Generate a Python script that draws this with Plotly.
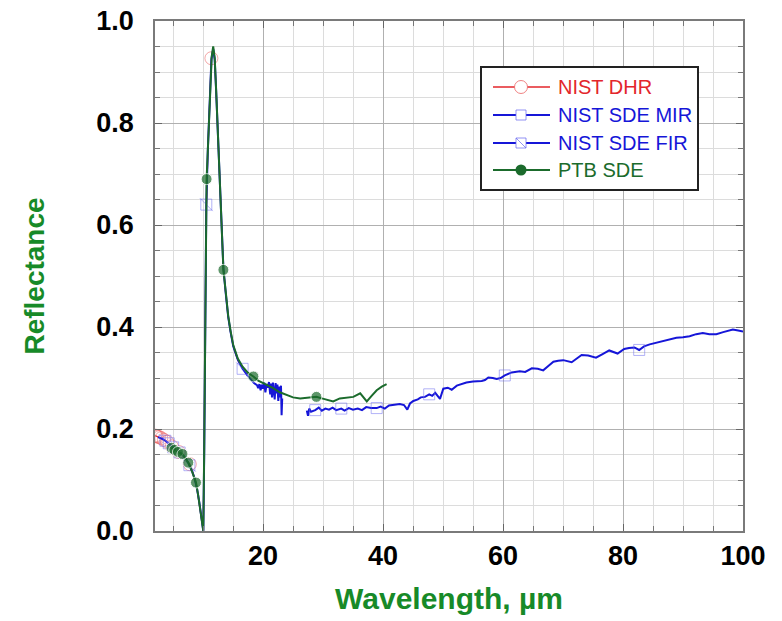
import plotly.graph_objects as go

# ---------------- data ----------------
DHR_WL = [2.05, 2.23, 2.45, 2.72, 3.05, 3.47, 4.03, 4.4, 4.8, 5.3, 5.95, 6.5, 7.0, 7.4, 7.8,
          8.2, 8.6, 9.0, 9.4, 9.7, 9.9, 10.05, 10.2, 10.35, 10.5, 10.6, 10.8, 11.0, 11.2, 11.4,
          11.7, 11.95, 12.2, 12.5, 12.8, 13.1, 13.4, 13.8, 14.2, 14.6, 15.0, 15.5, 16.0]
DHR_R = [0.187, 0.186, 0.185, 0.184, 0.182, 0.179, 0.175, 0.171, 0.166, 0.161, 0.155, 0.150,
         0.143, 0.137, 0.131, 0.118, 0.103, 0.083, 0.055, 0.030, 0.012, 0.0, 0.15, 0.36, 0.60,
         0.68, 0.745, 0.805, 0.87, 0.927, 0.946, 0.925, 0.86, 0.765, 0.68, 0.605, 0.515, 0.465,
         0.42, 0.39, 0.365, 0.345, 0.33]
DHR_MARK_WL = [2.05, 2.23, 2.45, 2.72, 3.05, 3.47, 4.03, 4.8, 5.95, 7.8, 11.4]

MIR_WL = [2.5, 3.0, 3.3, 3.73, 4.29, 4.7, 5.03, 5.5, 6.1, 6.7, 7.2, 7.73, 8.2, 8.6, 9.0, 9.4,
          9.7, 9.9, 10.05, 10.2, 10.35, 10.55, 10.8, 11.0, 11.2, 11.4, 11.7, 11.95, 12.2, 12.5,
          12.8, 13.1, 13.4, 13.8, 14.2, 14.6, 15.05, 15.8, 16.6, 17.4, 18.0, 18.5, 19.0,
          19.2, 19.4, 19.6, 19.8, 20.0, 20.2, 20.4, 20.6, 20.8, 21.0, 21.2, 21.35, 21.5, 21.65,
          21.8, 21.95, 22.1, 22.25, 22.4, 22.55, 22.7, 22.85, 23.0, 23.1, 23.2]
MIR_R = [0.184, 0.182, 0.180, 0.177, 0.172, 0.168, 0.164, 0.160, 0.154, 0.148, 0.141, 0.129,
         0.117, 0.103, 0.083, 0.055, 0.030, 0.012, 0.0, 0.15, 0.36, 0.64, 0.745, 0.805, 0.87,
         0.925, 0.945, 0.925, 0.86, 0.765, 0.68, 0.605, 0.515, 0.465, 0.42, 0.39, 0.362, 0.336,
         0.318, 0.305, 0.296, 0.290, 0.286,
         0.280, 0.288, 0.276, 0.287, 0.279, 0.291, 0.272, 0.288, 0.281, 0.292, 0.268, 0.289,
         0.262, 0.291, 0.275, 0.258, 0.290, 0.270, 0.287, 0.255, 0.283, 0.262, 0.285, 0.227, 0.260]
MIR_MARK_WL = [3.73, 4.29, 5.03, 6.1, 7.73, 10.55, 16.6]

FIR_WL = [27.3, 27.5, 27.7, 28.0, 28.7, 29.3, 29.8, 30.4, 31.0, 31.6, 32.2, 33.05, 33.6, 34.3,
          35.0, 35.8, 36.5, 37.2, 38.0, 38.95, 39.6, 40.3, 41.0, 42.0, 42.8, 43.5, 44.05, 44.5,
          45.05, 45.8, 46.3, 47.0, 47.7, 48.2, 48.7, 49.5, 50.05, 50.8, 51.45, 52.3, 53.1, 53.9,
          55.0, 56.45, 57.0, 57.55, 58.3, 58.95, 59.6, 60.3, 61.45, 62.8, 63.7, 64.8, 65.8, 66.7,
          67.6, 68.4, 69.2, 70.05, 71.45, 72.3, 73.1, 74.2, 75.5, 76.6, 77.7, 79.1, 80.2, 81.0,
          81.9, 82.7, 83.5, 84.45, 85.5, 86.7, 87.8, 88.9, 90.0, 91.1, 92.2, 93.3, 94.4, 95.55,
          96.7, 97.5, 98.3, 99.2, 100.0]
FIR_R = [0.236, 0.226, 0.240, 0.234, 0.237, 0.242, 0.236, 0.240, 0.238, 0.242, 0.237, 0.240,
         0.236, 0.241, 0.238, 0.240, 0.237, 0.243, 0.241, 0.241, 0.244, 0.240, 0.246, 0.247,
         0.249, 0.247, 0.238, 0.250, 0.255, 0.258, 0.262, 0.263, 0.268, 0.265, 0.271, 0.259,
         0.279, 0.281, 0.277, 0.285, 0.288, 0.291, 0.293, 0.294, 0.296, 0.301, 0.300, 0.298,
         0.300, 0.305, 0.311, 0.313, 0.312, 0.319, 0.318, 0.315, 0.324, 0.332, 0.334, 0.335,
         0.331, 0.338, 0.345, 0.344, 0.340, 0.347, 0.354, 0.348, 0.357, 0.359, 0.360, 0.355,
         0.362, 0.366, 0.369, 0.373, 0.376, 0.379, 0.380, 0.382, 0.386, 0.388, 0.386, 0.386,
         0.390, 0.393, 0.395, 0.393, 0.391]
FIR_MARK_WL = [28.7, 33.05, 38.95, 47.7, 60.3, 82.7]

PTB_WL = [4.74, 5.22, 5.82, 6.58, 7.0, 7.55, 8.2, 8.83, 9.2, 9.6, 9.85, 10.05, 10.2, 10.35,
          10.5, 10.6, 10.8, 11.0, 11.2, 11.45, 11.7, 11.95, 12.2, 12.5, 12.8, 13.1, 13.4, 13.8,
          14.2, 14.6, 15.05, 15.8, 16.6, 17.5, 18.4, 19.2, 20.05, 20.9, 21.7, 22.8, 23.9, 25.0,
          26.2, 27.5, 28.9, 29.8, 30.6, 31.7, 32.8, 33.9, 35.05, 36.2, 37.3, 38.1, 38.95, 39.8,
          40.6]
PTB_R = [0.163, 0.159, 0.155, 0.151, 0.144, 0.134, 0.116, 0.095, 0.070, 0.040, 0.015, 0.0,
         0.16, 0.37, 0.61, 0.69, 0.745, 0.81, 0.875, 0.93, 0.95, 0.928, 0.862, 0.768, 0.685,
         0.607, 0.512, 0.468, 0.422, 0.392, 0.364, 0.338, 0.322, 0.310, 0.303, 0.295, 0.290,
         0.285, 0.280, 0.272, 0.267, 0.262, 0.260, 0.261, 0.263, 0.260, 0.257, 0.254, 0.260,
         0.261, 0.263, 0.270, 0.254, 0.265, 0.276, 0.283, 0.288]
PTB_MARK_WL = [4.74, 5.22, 5.82, 6.58, 7.55, 8.83, 10.6, 13.4, 18.4, 28.9]

SERIES_NAMES = ["NIST DHR", "NIST SDE MIR", "NIST SDE FIR", "PTB SDE"]
X_TICKS = [20, 40, 60, 80, 100]
Y_TICKS = [0.0, 0.2, 0.4, 0.6, 0.8, 1.0]

# ---------------- styles ----------------
RED = "#e3262b"
BLUE = "#1616d8"
GREEN = "#1b6b2c"
TITLE_GREEN = "#178a28"
PINK = "rgba(235,100,100,0.8)"
LIGHTBLUE = "rgba(110,110,240,0.75)"
FONT = "Liberation Sans, Arial, sans-serif"

W, H = 782, 621
# plot area in window pixels: x 155..743, y 21..531
ML, MT = 155, 21
MR, MB = W - 743, H - 531


def sizes(wl, marks, s):
    return [s if w in marks else 0 for w in wl]


fig = go.Figure()

fig.add_trace(go.Scatter(
    x=DHR_WL, y=DHR_R, mode="lines+markers", name=SERIES_NAMES[0],
    line=dict(color=RED, width=1.3),
    marker=dict(symbol="circle-open", size=sizes(DHR_WL, DHR_MARK_WL, 13), color=PINK),
))
fig.add_trace(go.Scatter(
    x=FIR_WL, y=FIR_R, mode="lines+markers", name=SERIES_NAMES[1],
    line=dict(color=BLUE, width=2),
    marker=dict(symbol="square-open", size=sizes(FIR_WL, FIR_MARK_WL, 11), color=LIGHTBLUE),
))
fig.add_trace(go.Scatter(
    x=MIR_WL, y=MIR_R, mode="lines+markers", name=SERIES_NAMES[2],
    line=dict(color=BLUE, width=2),
    marker=dict(symbol="square-open", size=sizes(MIR_WL, MIR_MARK_WL, 11), color=LIGHTBLUE),
))
fig.add_trace(go.Scatter(
    x=MIR_WL, y=MIR_R, mode="markers", showlegend=False, hoverinfo="skip",
    marker=dict(symbol="line-nw-open", size=sizes(MIR_WL, MIR_MARK_WL, 13), color=LIGHTBLUE),
))
fig.add_trace(go.Scatter(
    x=PTB_WL, y=PTB_R, mode="lines+markers", name=SERIES_NAMES[3],
    line=dict(color=GREEN, width=2),
    marker=dict(symbol="circle", size=sizes(PTB_WL, PTB_MARK_WL, 11), color=GREEN),
))

# ---------------- hand-drawn legend box (layout decoration) ----------------
PW, PH = W - ML - MR, H - MT - MB


def px(xw):
    return (xw - ML) / PW


def py(yw):
    return (H - MB - yw) / PH


LEG_X0, LEG_X1, LEG_Y0, LEG_Y1 = 481, 698, 67, 190
ROW_Y = [87, 115, 143, 170]
LINE_X0, LINE_X1, MARK_X, TEXT_X = 493, 550, 521, 556
row_colors = [RED, BLUE, BLUE, GREEN]

shapes = [dict(type="rect", xref="paper", yref="paper", layer="above",
               x0=px(LEG_X0), x1=px(LEG_X1), y0=py(LEG_Y1), y1=py(LEG_Y0),
               line=dict(color="#222", width=2), fillcolor="white")]
annotations = []
for i, (name, col, ry) in enumerate(zip(SERIES_NAMES, row_colors, ROW_Y)):
    yy = py(ry)
    shapes.append(dict(type="line", xref="paper", yref="paper", layer="above",
                       x0=px(LINE_X0), x1=px(LINE_X1), y0=yy, y1=yy,
                       line=dict(color=col, width=2 if i else 1.5)))
    mk = dict(xref="paper", yref="paper", layer="above", xsizemode="pixel", ysizemode="pixel",
              xanchor=px(MARK_X), yanchor=yy)
    if i == 0:
        shapes.append(dict(type="circle", x0=-6.5, x1=6.5, y0=-6.5, y1=6.5,
                           line=dict(color=PINK, width=1), fillcolor="white", **mk))
    elif i in (1, 2):
        shapes.append(dict(type="rect", x0=-5, x1=5, y0=-5, y1=5,
                           line=dict(color=LIGHTBLUE, width=1), fillcolor="white", **mk))
        if i == 2:
            shapes.append(dict(type="line", x0=-5, x1=5, y0=5, y1=-5,
                               line=dict(color=LIGHTBLUE, width=1), **mk))
    else:
        shapes.append(dict(type="circle", x0=-5.5, x1=5.5, y0=-5.5, y1=5.5,
                           line=dict(color=col, width=0), fillcolor=col, **mk))
    annotations.append(dict(xref="paper", yref="paper", x=px(TEXT_X), y=yy,
                            xanchor="left", yanchor="middle", showarrow=False,
                            text=name, font=dict(family=FONT, size=20, color=col)))

axis_common = dict(
    showline=True, linecolor="#7a7a7a", linewidth=1.5, mirror="allticks",
    ticks="inside", ticklen=7, tickcolor="#666", tickwidth=1,
    showgrid=True, gridcolor="#b0b0b0", gridwidth=1, zeroline=False, automargin=False,
    ticklabeloverflow="allow",
    tickfont=dict(family=FONT, size=27, color="black", weight="bold"),
)

fig.update_layout(
    width=W, height=H,
    margin=dict(l=ML, r=MR, t=MT, b=MB, autoexpand=False),
    paper_bgcolor="white", plot_bgcolor="white",
    showlegend=False,
    shapes=shapes, annotations=annotations,
    xaxis=dict(
        range=[2, 100], tickvals=X_TICKS, ticktext=[str(v) for v in X_TICKS],
        minor=dict(dtick=5, tick0=0, showgrid=True, gridcolor="#dcdcdc",
                   ticks="inside", ticklen=5, tickcolor="#777"),
        title=dict(text="Wavelength, µm", standoff=18,
                   font=dict(family=FONT, size=30, color=TITLE_GREEN, weight="bold")),
        ticklabelstandoff=0,
        **axis_common,
    ),
    yaxis=dict(
        range=[0, 1.0], tickvals=Y_TICKS, ticktext=[f"{v:.1f}" for v in Y_TICKS],
        minor=dict(dtick=0.05, tick0=0, showgrid=True, gridcolor="#dcdcdc",
                   ticks="inside", ticklen=5, tickcolor="#777"),
        title=dict(text="Reflectance", standoff=44,
                   font=dict(family=FONT, size=28, color=TITLE_GREEN, weight="bold")),
        ticklabelstandoff=14,
        **axis_common,
    ),
)

fig.write_html("out.html", config={"displayModeBar": False},
               post_script="document.body.style.margin='0';document.body.style.overflow='hidden';")
